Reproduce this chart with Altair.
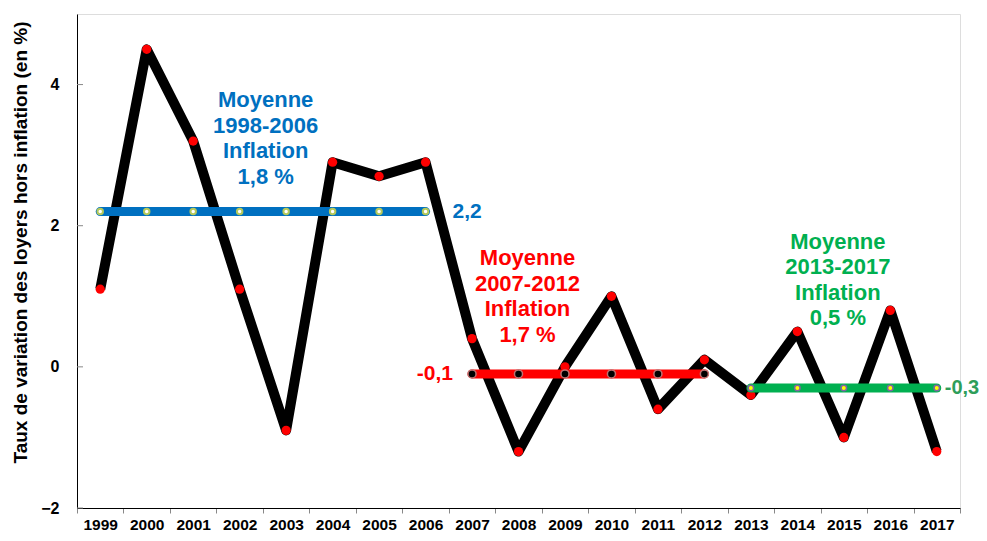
import altair as alt
import pandas as pd

years = ["1999", "2000", "2001", "2002", "2003", "2004", "2005", "2006", "2007",
         "2008", "2009", "2010", "2011", "2012", "2013", "2014", "2015", "2016", "2017"]
rent_change = [1.1, 4.5, 3.2, 1.1, -0.9, 2.9, 2.7, 2.9, 0.4, -1.2, 0.0, 1.0, -0.6,
               0.1, -0.4, 0.5, -1.0, 0.8, -1.2]

blue_years = ["1999", "2000", "2001", "2002", "2003", "2004", "2005", "2006"]
blue_avg = 2.2
red_years = ["2007", "2008", "2009", "2010", "2011", "2012"]
red_avg = -0.1
green_years = ["2013", "2014", "2015", "2016", "2017"]
green_avg = -0.3

y_ticks = [-2, 0, 2, 4]

BLUE = "#0070C0"
RED = "#FF0000"
GREEN = "#00B050"
LABEL_FONT = "Liberation Sans, Arial, sans-serif"
TEXT_FONT = "Liberation Sans, Arial, sans-serif"

df = pd.DataFrame({"year": years, "value": rent_change})
blue_df = pd.DataFrame({"year": blue_years, "value": [blue_avg] * len(blue_years)})
red_df = pd.DataFrame({"year": red_years, "value": [red_avg] * len(red_years)})
green_df = pd.DataFrame({"year": green_years, "value": [green_avg] * len(green_years)})
tick_df = pd.DataFrame({"value": y_ticks})

x_axis = alt.Axis(
    title=None, tickBand="extent", tickSize=5, tickColor="#888888",
    domainColor="#000000", labelFont=LABEL_FONT, labelFontSize=15.5,
    labelFontWeight="bold", labelColor="#000000", labelPadding=4, labelAngle=0,
    grid=False,
)
x_scale = alt.Scale(type="band", domain=years, paddingInner=0, paddingOuter=0)
y_axis = alt.Axis(
    title="Taux de variation des loyers hors inflation (en %)",
    values=y_ticks, ticks=False, domainColor="#000000", grid=False,
    labelFont=LABEL_FONT, labelFontSize=16, labelFontWeight="bold",
    labelColor="#000000", labelPadding=18,
    titleFont=TEXT_FONT, titleFontSize=19, titleFontWeight="bold",
    titleColor="#000000", titleX=-57, titleY=228, titleBaseline="middle",
    titleAlign="center",
)
y_scale = alt.Scale(domain=[-2, 5], nice=False, zero=False)


def X():
    return alt.X("year:O", scale=x_scale, axis=x_axis)


def Y():
    return alt.Y("value:Q", scale=y_scale, axis=y_axis)


line = alt.Chart(df).mark_line(color="#000000", strokeWidth=10, strokeJoin="round").encode(x=X(), y=Y())
dots = alt.Chart(df).mark_point(filled=True, color=RED, size=85, opacity=1).encode(x=X(), y=Y())

ticks = alt.Chart(tick_df).mark_rule(color="#888888", strokeWidth=1).encode(
    y=Y(), x=alt.value(0), x2=alt.value(6))


def avg_layer(d, color, dot_fill, dot_stroke, dot_size, dot_sw):
    ln = alt.Chart(d).mark_line(color=color, strokeWidth=9, strokeCap="round").encode(x=X(), y=Y())
    pt = alt.Chart(d).mark_point(filled=True, fill=dot_fill, stroke=dot_stroke, strokeWidth=dot_sw,
                                 size=dot_size, opacity=1).encode(x=X(), y=Y())
    return ln + pt


blue_layer = avg_layer(blue_df, BLUE, "#FFFFFF", "#B5C95A", 30, 2)
red_layer = avg_layer(red_df, RED, "#000000", "#C07070", 65, 1.5)
green_layer = avg_layer(green_df, GREEN, "#FFFF00", "#8064A2", 30, 1.5)


def label(year, value, text, color, dx, align, size=22):
    d = pd.DataFrame({"year": [year], "value": [value], "label": [text]})
    return alt.Chart(d).mark_text(
        align=align, baseline="middle", dx=dx, font=TEXT_FONT, fontSize=size,
        fontWeight="bold", color=color, lineBreak="\n", lineHeight=25.5,
    ).encode(x=X(), y=Y(), text="label:N")


texts = (
    label("2002", 3.78, "Moyenne\n1998-2006\nInflation\n1,8 %", BLUE, 26, "center")
    + label("2008", 1.54, "Moyenne\n2007-2012\nInflation\n1,7 %", RED, 9, "center")
    + label("2015", 1.77, "Moyenne\n2013-2017\nInflation\n0,5 %", GREEN, -6, "center")
    + label("2006", blue_avg, "2,2", BLUE, 27, "left", 21)
    + label("2007", red_avg, "-0,1", RED, -19, "right", 21)
    + label("2017", green_avg, "-0,3", "#2E9E5A", 8, "left", 20)
)

chart = alt.layer(
    ticks, line, dots, blue_layer, red_layer, green_layer, texts
).properties(
    width=883, height=494,
    autosize=alt.AutoSizeParams(type="none"),
    padding={"left": 69, "top": 6, "right": 19, "bottom": 25},
).configure_view(stroke=None).configure(background="#FFFFFF")

chart.save("out.html", embed_options={"renderer": "svg", "actions": False})
